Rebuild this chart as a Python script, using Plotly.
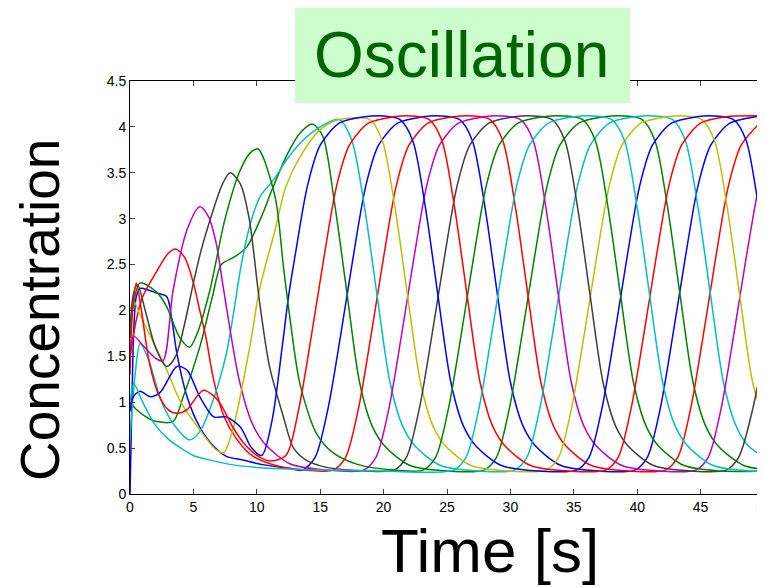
import plotly.graph_objects as go

# ---- data (time in s, concentration) ----
b1_t = [0, 0.15, 0.3, 0.5, 0.8, 1.5, 2.1, 2.9, 3.3, 3.7, 4.5, 5.5, 6.6, 7.6, 8.9, 10.5, 12.5, 13.6, 14.6, 15.6, 16.6, 17.6, 18.6, 19.6, 21.1, 23.1, 24.5, 26.0, 27.0, 28.0, 29.0, 30.0, 31.0, 32.0, 34.0, 37.0, 39.8, 40.8, 41.8, 42.8, 43.8, 44.8, 45.8, 47.3, 49.3, 50]
b1_y = [0, 1.0, 1.8, 2.15, 2.24, 2.22, 2.19, 2.15, 1.9, 1.53, 1.06, 0.73, 0.52, 0.41, 0.37, 0.32, 0.28, 0.26, 0.40, 0.92, 1.72, 2.58, 3.36, 3.80, 4.04, 4.11, 4.12, 4.08, 3.85, 3.12, 2.15, 1.22, 0.74, 0.52, 0.31, 0.25, 0.26, 0.40, 0.92, 1.72, 2.58, 3.36, 3.80, 4.04, 4.11, 4.12]

g2_t = [0, 0.5, 1.5, 2.1, 3.4, 4.2, 5.5, 6.5, 7.2, 8.2, 9.2, 10.3, 11.3, 12.4, 13.4, 14.4, 15.2, 16.1, 17.1, 18.1, 19.1, 20.1, 22.1, 25.1, 27.9, 28.9, 29.9, 30.9, 31.9, 32.9, 33.9, 35.4, 37.4, 39.0, 40.4, 41.4, 42.4, 43.4, 44.4, 45.4, 46.4, 48.4, 50]
g2_y = [1.0, 0.92, 0.82, 0.79, 0.79, 1.06, 1.6, 2.15, 2.5, 2.58, 2.69, 3.0, 3.35, 3.7, 3.93, 4.03, 3.9, 3.2, 2.2, 1.22, 0.74, 0.52, 0.31, 0.25, 0.26, 0.40, 0.92, 1.72, 2.58, 3.36, 3.80, 4.04, 4.11, 4.12, 4.08, 3.85, 3.12, 2.15, 1.22, 0.74, 0.52, 0.31, 0.27]

r3_t = [0, 0.5, 1.0, 2.0, 3.0, 3.6, 4.3, 5.0, 5.5, 6.0, 6.6, 7.4, 8.4, 9.6, 11.5, 14.0, 16.0, 17.0, 18.0, 19.0, 20.0, 21.0, 22.0, 23.5, 25.5, 27.0, 28.4, 29.4, 30.4, 31.4, 32.4, 33.4, 34.4, 36.4, 39.4, 42.2, 43.2, 44.2, 45.2, 46.2, 47.2, 48.2, 49.7, 50]
r3_y = [1.5, 1.9, 2.15, 2.4, 2.62, 2.67, 2.58, 2.3, 2.0, 1.7, 1.24, 0.85, 0.6, 0.42, 0.31, 0.26, 0.26, 0.40, 0.92, 1.72, 2.58, 3.36, 3.80, 4.04, 4.11, 4.12, 4.08, 3.85, 3.12, 2.15, 1.22, 0.74, 0.52, 0.31, 0.25, 0.26, 0.40, 0.92, 1.72, 2.58, 3.36, 3.80, 4.04, 4.06]

c4_t = [0, 0.4, 0.8, 1.5, 2.5, 3.5, 4.7, 5.5, 6.5, 7.6, 8.2, 8.7, 9.5, 10.3, 11.3, 12.4, 13.4, 15.0, 16.5, 17.5, 18.5, 19.5, 20.5, 21.5, 22.5, 24.5, 27.5, 30.3, 31.3, 32.3, 33.3, 34.3, 35.3, 36.3, 37.8, 39.8, 41.3, 42.8, 43.8, 44.8, 45.8, 46.8, 47.8, 48.8, 50]
c4_y = [0.6, 1.3, 1.64, 1.45, 1.0, 0.75, 0.59, 0.68, 1.0, 1.53, 2.0, 2.44, 2.95, 3.25, 3.42, 3.65, 3.82, 4.0, 4.08, 3.85, 3.12, 2.15, 1.22, 0.74, 0.52, 0.31, 0.25, 0.26, 0.40, 0.92, 1.72, 2.58, 3.36, 3.80, 4.04, 4.11, 4.12, 4.08, 3.85, 3.12, 2.15, 1.22, 0.74, 0.52, 0.40]

m5_t = [0, 0.3, 1.0, 2.0, 2.6, 3.4, 4.5, 5.5, 6.2, 6.8, 7.3, 8.0, 8.6, 9.6, 10.6, 12.6, 15.6, 18.4, 19.4, 20.4, 21.4, 22.4, 23.4, 24.4, 25.9, 27.9, 29.3, 30.8, 31.8, 32.8, 33.8, 34.8, 35.8, 36.8, 38.8, 41.8, 44.6, 45.6, 46.6, 47.6, 48.6, 49.6, 50]
m5_y = [1.5, 1.72, 1.62, 1.48, 1.45, 2.22, 2.88, 3.13, 3.02, 2.73, 2.3, 1.7, 1.25, 0.78, 0.55, 0.33, 0.26, 0.26, 0.40, 0.92, 1.72, 2.58, 3.36, 3.80, 4.04, 4.11, 4.12, 4.08, 3.85, 3.12, 2.15, 1.22, 0.74, 0.52, 0.31, 0.25, 0.26, 0.40, 0.92, 1.72, 2.58, 3.36, 3.55]

y6_t = [0, 0.3, 0.8, 1.5, 2.9, 4.0, 5.5, 6.8, 7.4, 8.1, 8.6, 9.1, 9.6, 10.1, 10.7, 11.3, 12.3, 13.4, 15.0, 16.5, 18.9, 19.9, 20.9, 21.9, 22.9, 23.9, 24.9, 26.9, 29.9, 32.8, 33.8, 34.8, 35.8, 36.8, 37.8, 38.8, 40.3, 42.3, 43.7, 45.1, 46.1, 47.1, 48.1, 49.1, 50]
y6_y = [2.0, 2.1, 1.95, 1.75, 1.35, 1.0, 0.70, 0.48, 0.45, 0.7, 1.0, 1.35, 1.72, 2.15, 2.5, 2.8, 3.35, 3.67, 3.97, 4.08, 4.08, 3.85, 3.12, 2.15, 1.22, 0.74, 0.52, 0.31, 0.25, 0.26, 0.40, 0.92, 1.72, 2.58, 3.36, 3.80, 4.04, 4.11, 4.12, 4.08, 3.85, 3.12, 2.15, 1.22, 0.80]

k7_t = [0, 0.3, 0.6, 1.2, 2.0, 2.9, 3.6, 4.3, 5.0, 5.6, 6.3, 7.3, 7.9, 8.7, 9.4, 10.2, 11.0, 12.1, 12.9, 14.0, 15.5, 17.5, 20.8, 21.8, 22.8, 23.8, 24.8, 25.8, 26.8, 28.3, 30.3, 31.8, 33.3, 34.3, 35.3, 36.3, 37.3, 38.3, 39.3, 41.3, 44.3, 47.0, 48.0, 49.1, 50]
k7_y = [1.8, 2.2, 2.28, 2.0, 1.6, 1.39, 1.5, 1.85, 2.3, 2.65, 2.98, 3.38, 3.5, 3.38, 3.0, 2.11, 1.39, 0.84, 0.5, 0.36, 0.29, 0.26, 0.26, 0.40, 0.92, 1.72, 2.58, 3.36, 3.80, 4.04, 4.11, 4.12, 4.08, 3.85, 3.12, 2.15, 1.22, 0.74, 0.52, 0.31, 0.25, 0.26, 0.40, 0.92, 1.55]

b8_t = [0, 0.26, 0.8, 1.6, 2.4, 3.7, 4.5, 5.5, 6.6, 7.6, 8.7, 9.6, 10.4, 11.2, 12.0, 12.5, 13.0, 14.0, 15.0, 16.5, 18.5, 20.0, 21.3, 22.3, 23.3, 24.3, 25.3, 26.3, 27.3, 29.3, 32.3, 35.2, 36.2, 37.2, 38.2, 39.2, 40.2, 41.2, 42.7, 44.7, 46.0, 47.6, 48.6, 49.6, 50]
b8_y = [0.9, 1.06, 1.12, 1.06, 1.11, 1.39, 1.35, 1.06, 0.84, 0.84, 0.73, 0.5, 0.42, 0.8, 1.6, 2.15, 2.58, 3.36, 3.80, 4.04, 4.11, 4.12, 4.08, 3.85, 3.12, 2.15, 1.22, 0.74, 0.52, 0.31, 0.25, 0.26, 0.40, 0.92, 1.72, 2.58, 3.36, 3.80, 4.04, 4.11, 4.12, 4.08, 3.85, 3.12, 2.90]

g9_t = [0, 0.3, 0.8, 2.1, 2.9, 3.9, 4.7, 5.3, 6.3, 7.5, 8.7, 9.5, 10.1, 10.5, 11.5, 12.1, 12.6, 13.4, 14.7, 16.0, 18.0, 21.0, 23.1, 24.1, 25.1, 26.1, 27.1, 28.1, 29.1, 30.6, 32.6, 34.2, 35.7, 36.7, 37.7, 38.7, 39.7, 40.7, 41.7, 43.7, 46.7, 50]
g9_y = [1.7, 2.1, 2.3, 2.2, 2.04, 1.71, 1.6, 1.75, 2.22, 3.0, 3.53, 3.72, 3.76, 3.67, 3.2, 2.48, 1.93, 1.2, 0.66, 0.45, 0.32, 0.26, 0.26, 0.40, 0.92, 1.72, 2.58, 3.36, 3.80, 4.04, 4.11, 4.12, 4.08, 3.85, 3.12, 2.15, 1.22, 0.74, 0.52, 0.31, 0.25, 0.25]

r10_t = [0, 0.2, 0.5, 0.9, 1.5, 2.2, 3.0, 3.7, 4.5, 5.2, 5.8, 6.5, 7.1, 8.1, 9.0, 10.0, 11.0, 12.3, 13.3, 14.3, 15.3, 16.3, 17.3, 18.8, 20.8, 22.2, 23.6, 24.6, 25.6, 26.6, 27.6, 28.6, 29.6, 31.6, 34.6, 37.5, 38.5, 39.5, 40.5, 41.5, 42.5, 43.5, 45.0, 47.0, 50]
r10_y = [1.3, 2.0, 2.3, 2.0, 1.45, 1.1, 0.92, 0.88, 0.92, 1.05, 1.13, 1.08, 0.99, 0.73, 0.55, 0.42, 0.36, 0.42, 0.92, 1.72, 2.58, 3.36, 3.80, 4.04, 4.11, 4.12, 4.08, 3.85, 3.12, 2.15, 1.22, 0.74, 0.52, 0.31, 0.25, 0.26, 0.40, 0.92, 1.72, 2.58, 3.36, 3.80, 4.04, 4.11, 4.12]

c11_t = [0, 0.3, 1.0, 2.0, 3.0, 4.0, 5.0, 6.0, 8.0, 10.0, 13.0, 16.0, 20.0, 25.5, 26.5, 27.5, 28.5, 29.5, 30.5, 31.5, 33.0, 35.0, 36.5, 38.0, 39.0, 40.0, 41.0, 42.0, 43.0, 44.0, 46.0, 49.0, 50]
c11_y = [1.0, 1.2, 1.0, 0.75, 0.6, 0.5, 0.42, 0.38, 0.32, 0.29, 0.27, 0.26, 0.25, 0.26, 0.40, 0.92, 1.72, 2.58, 3.36, 3.80, 4.04, 4.11, 4.12, 4.08, 3.85, 3.12, 2.15, 1.22, 0.74, 0.52, 0.31, 0.25, 0.25]

x_ticks = [0, 5, 10, 15, 20, 25, 30, 35, 40, 45, 50]
y_ticks = [0, 0.5, 1, 1.5, 2, 2.5, 3, 3.5, 4, 4.5]
title_text = "Oscillation"
x_label = "Time [s]"
y_label = "Concentration"

series = [
    (b1_t, b1_y, "#0000ff"), (g2_t, g2_y, "#008000"), (r3_t, r3_y, "#ff0000"),
    (c4_t, c4_y, "#00bfbf"), (m5_t, m5_y, "#bf00bf"), (y6_t, y6_y, "#bfbf00"),
    (k7_t, k7_y, "#3f3f3f"), (b8_t, b8_y, "#0000ff"), (g9_t, g9_y, "#008000"),
    (r10_t, r10_y, "#ff0000"), (c11_t, c11_y, "#00bfbf"),
]

fig = go.Figure()
for t, y, col in series:
    fig.add_trace(go.Scatter(x=t, y=y, mode="lines",
                             line=dict(color=col, width=1.5, shape="spline", smoothing=0.8),
                             showlegend=False, hoverinfo="skip"))

FONT = "Liberation Sans, Arial, Helvetica, sans-serif"
# the page body has an 8px margin, so the figure is offset by (8, 8) in the window
fig.update_layout(
    width=765, height=587,
    margin=dict(l=122, r=9, t=73, b=101, autoexpand=False),
    paper_bgcolor="white", plot_bgcolor="white",
    font=dict(family=FONT, color="black"),
    xaxis=dict(range=[0, 50], tickvals=x_ticks, ticks="inside", ticklen=5,
               showline=True, linecolor="black", linewidth=1, mirror="ticks",
               showgrid=False, zeroline=False, tickfont=dict(size=14),
               automargin=False),
    yaxis=dict(range=[0, 4.5], tickvals=y_ticks, ticks="inside", ticklen=5,
               showline=True, linecolor="black", linewidth=1, mirror="ticks",
               showgrid=False, zeroline=False, tickfont=dict(size=14),
               automargin=False),
    shapes=[dict(type="rect", xref="paper", yref="paper",
                 x0=0.2603, x1=0.7886, y0=0.9467, y1=1.1792,
                 fillcolor="#ccffcc", line=dict(width=0), layer="above")],
    annotations=[
        dict(text=title_text, xref="paper", yref="paper", x=0.5229, y=1.063,
             xanchor="center", yanchor="middle", showarrow=False,
             font=dict(size=64, color="#006400", family=FONT)),
        dict(text=x_label, xref="paper", yref="paper", x=0.5686, y=-0.136,
             xanchor="center", yanchor="middle", showarrow=False,
             font=dict(size=62, color="black", family=FONT)),
        dict(text=y_label, xref="paper", yref="paper", x=-0.142, y=0.4455,
             xanchor="center", yanchor="middle", showarrow=False, textangle=-90,
             font=dict(size=55, color="black", family=FONT)),
    ],
)
fig.write_html("out.html")
